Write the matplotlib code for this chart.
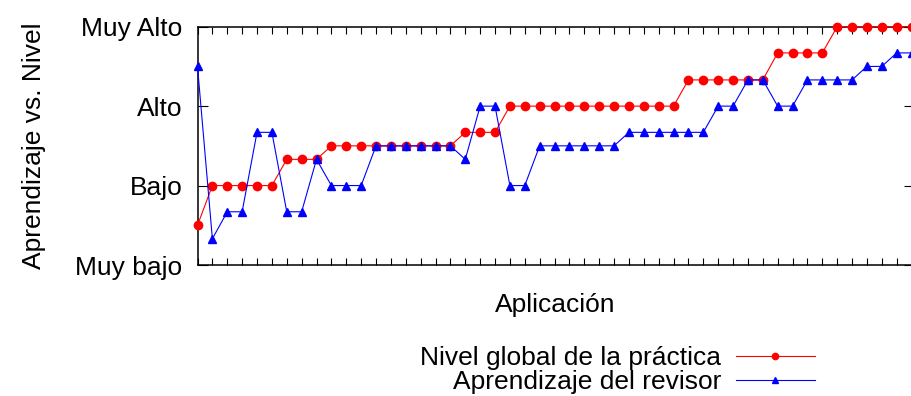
import matplotlib
matplotlib.use("Agg")
import matplotlib.pyplot as plt
import numpy as np

plt.rcParams['font.family'] = ['Liberation Sans', 'DejaVu Sans']

level_labels = ["Muy bajo", "Bajo", "Alto", "Muy Alto"]
level_values = [1, 2, 3, 4]

nivel_global = [1.5,
                2.0, 2.0, 2.0, 2.0, 2.0,
                2.33, 2.33, 2.33,
                2.5, 2.5, 2.5, 2.5, 2.5, 2.5, 2.5, 2.5, 2.5,
                2.67, 2.67, 2.67,
                3.0, 3.0, 3.0, 3.0, 3.0, 3.0, 3.0, 3.0, 3.0, 3.0, 3.0, 3.0,
                3.33, 3.33, 3.33, 3.33, 3.33, 3.33,
                3.67, 3.67, 3.67, 3.67,
                4.0, 4.0, 4.0, 4.0, 4.0, 4.0]

aprendizaje_revisor = [3.5, 1.33, 1.67, 1.67, 2.67, 2.67, 1.67, 1.67, 2.33,
                       2.0, 2.0, 2.0,
                       2.5, 2.5, 2.5, 2.5, 2.5, 2.5,
                       2.33, 3.0, 3.0, 2.0, 2.0,
                       2.5, 2.5, 2.5, 2.5, 2.5, 2.5,
                       2.67, 2.67, 2.67, 2.67, 2.67, 2.67,
                       3.0, 3.0, 3.33, 3.33, 3.0, 3.0,
                       3.33, 3.33, 3.33, 3.33, 3.5, 3.5, 3.67, 3.67]

series_names = ["Nivel global de la práctica", "Aprendizaje del revisor"]
x_label = "Aplicación"
y_label = "Aprendizaje vs. Nivel"

FS = 19
W, H = 911, 396
fig = plt.figure(figsize=(W / 100, H / 100), dpi=100)
left, right, top, bottom = 197.5, 913.5, 26.7, 265.0
ax = fig.add_axes([left / W, 1 - bottom / H, (right - left) / W, (bottom - top) / H])

x = np.arange(len(nivel_global))
ax.plot(x, nivel_global, color="#ff0000", lw=0.8, marker="o", markersize=6,
        label=series_names[0], clip_on=False, zorder=3)
ax.plot(x, aprendizaje_revisor, color="#0000ff", lw=0.8, marker="^", markersize=6,
        label=series_names[1], clip_on=False, zorder=4)

ax.set_xlim(0, 48.13)
ax.set_ylim(1, 4)
ax.set_yticks(level_values)
ax.set_yticklabels(level_labels, fontsize=FS)
ax.set_xticks(x)
ax.set_xticklabels([])
ax.tick_params(axis="x", direction="in", length=5, width=0.8, top=True, bottom=True, color="black")
ax.tick_params(axis="y", direction="in", length=7, width=0.8, left=True, right=True, pad=11, color="black")
for s in ax.spines.values():
    s.set_linewidth(1.1)

ax.set_xlabel(x_label, fontsize=FS, labelpad=17)
ax.set_ylabel(y_label, fontsize=FS)
ax.yaxis.set_label_coords(-0.212, 0.5)

leg = ax.legend(loc="center right", bbox_to_anchor=(815 / W, 1 - 370.5 / H),
                bbox_transform=fig.transFigure, frameon=False, markerfirst=False,
                fontsize=FS, numpoints=1, handlelength=3.0, handletextpad=0.55,
                labelspacing=0.0, borderpad=0, borderaxespad=0, markerscale=0.75)

fig.savefig("out.png", dpi=100)
